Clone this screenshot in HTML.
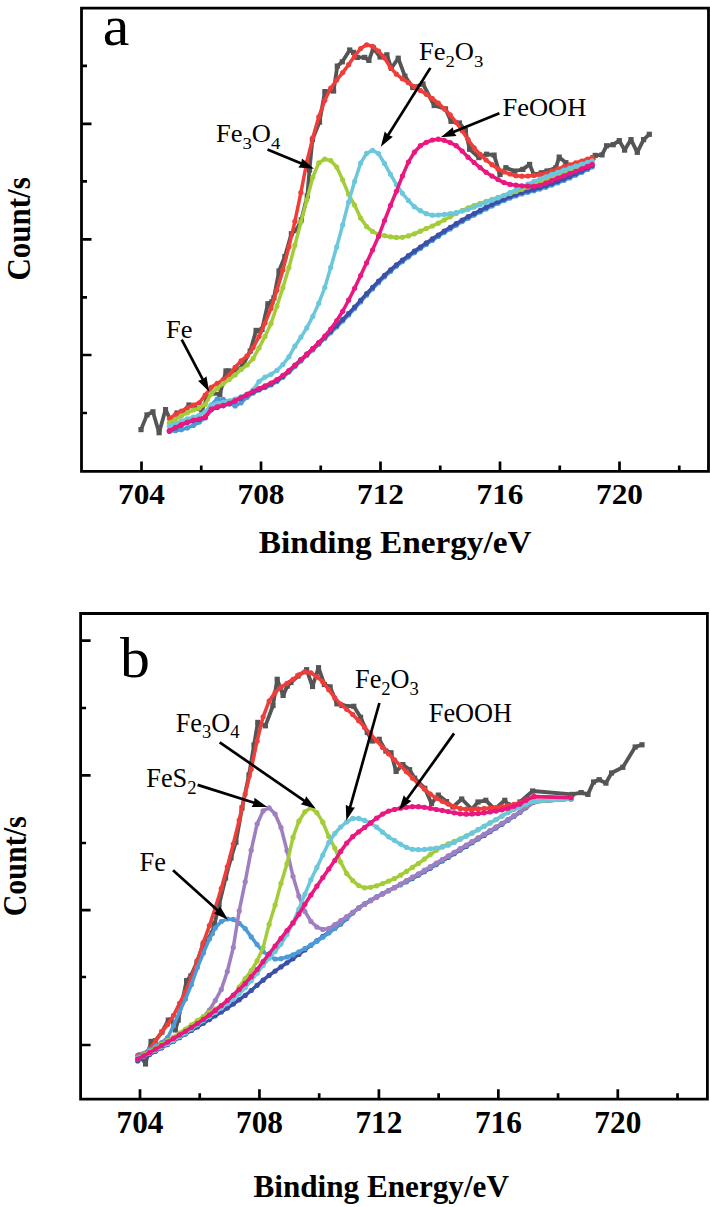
<!DOCTYPE html>
<html><head><meta charset="utf-8"><style>
html,body{margin:0;padding:0;background:#fff;width:710px;height:1207px;overflow:hidden}
svg{display:block}
text{font-family:"Liberation Serif",serif}
.tk,.ax{font-weight:bold}
</style></head><body>
<svg width="710" height="1207" viewBox="0 0 710 1207">
<path d="M81.5 8.2H708.5V471.4H81.5Z" fill="none" stroke="#000" stroke-width="2.8" stroke-linejoin="miter"/>
<path d="M141.50 471.4V461.50M201.25 471.4V465.50M261.00 471.4V461.50M320.75 471.4V465.50M380.50 471.4V461.50M440.25 471.4V465.50M500.00 471.4V461.50M559.75 471.4V465.50M619.50 471.4V461.50M679.25 471.4V465.50M81.5 123.9H91.5M81.5 239.4H91.5M81.5 355H91.5M81.5 65.8H87.0M81.5 181.4H87.0M81.5 297.4H87.0M81.5 413H87.0" stroke="#000" stroke-width="2.7" fill="none"/>
<text transform="translate(141.50,503.50) scale(1.0450,1)" class="tk" text-anchor="middle" style="font-size:30px">704</text>
<text transform="translate(261.00,503.50) scale(1.0450,1)" class="tk" text-anchor="middle" style="font-size:30px">708</text>
<text transform="translate(380.50,503.50) scale(1.0450,1)" class="tk" text-anchor="middle" style="font-size:30px">712</text>
<text transform="translate(500.00,503.50) scale(1.0450,1)" class="tk" text-anchor="middle" style="font-size:30px">716</text>
<text transform="translate(619.50,503.50) scale(1.0450,1)" class="tk" text-anchor="middle" style="font-size:30px">720</text>
<text transform="translate(395.15,552.50) scale(1.0570,1)" class="ax" text-anchor="middle" style="font-size:31.5px">Binding Energy/eV</text>
<text transform="translate(30.00,228.90) scale(1.1000,1) rotate(-90)" class="ax" text-anchor="middle" style="font-size:31px">Count/s</text>
<text transform="translate(102.80,44.50) scale(1.0700,1)" class="lab" text-anchor="start" style="font-size:56px">a</text>
<path d="M80.6 613.5H707.4V1099.2H80.6Z" fill="none" stroke="#000" stroke-width="2.8" stroke-linejoin="miter"/>
<path d="M140.00 1099.2V1089.30M199.72 1099.2V1093.30M259.45 1099.2V1089.30M319.17 1099.2V1093.30M378.90 1099.2V1089.30M438.62 1099.2V1093.30M498.35 1099.2V1089.30M558.07 1099.2V1093.30M617.80 1099.2V1089.30M677.52 1099.2V1093.30M80.6 640.6H90.6M80.6 775.3H90.6M80.6 910.2H90.6M80.6 1045H90.6M80.6 708H86.1M80.6 843H86.1M80.6 977H86.1" stroke="#000" stroke-width="2.7" fill="none"/>
<text transform="translate(140.00,1132.90) scale(1.0000,1)" class="tk" text-anchor="middle" style="font-size:31.3px">704</text>
<text transform="translate(259.45,1132.90) scale(1.0000,1)" class="tk" text-anchor="middle" style="font-size:31.3px">708</text>
<text transform="translate(378.90,1132.90) scale(1.0000,1)" class="tk" text-anchor="middle" style="font-size:31.3px">712</text>
<text transform="translate(498.35,1132.90) scale(1.0000,1)" class="tk" text-anchor="middle" style="font-size:31.3px">716</text>
<text transform="translate(617.80,1132.90) scale(1.0000,1)" class="tk" text-anchor="middle" style="font-size:31.3px">720</text>
<text transform="translate(381.20,1197.30) scale(0.9900,1)" class="ax" text-anchor="middle" style="font-size:31.5px">Binding Energy/eV</text>
<text transform="translate(25.50,866.30) scale(1.1000,1) rotate(-90)" class="ax" text-anchor="middle" style="font-size:30px">Count/s</text>
<text transform="translate(120.00,676.50) scale(1.0500,1)" class="lab" text-anchor="start" style="font-size:57px">b</text>
<defs><marker id="m_gray" viewBox="-3 -3 6 6" markerWidth="6" markerHeight="6" markerUnits="userSpaceOnUse" refX="0" refY="0"><rect x="-2.6" y="-2.6" width="5.2" height="5.2" fill="#555555"/></marker><marker id="m_red" viewBox="-3 -3 6 6" markerWidth="6" markerHeight="6" markerUnits="userSpaceOnUse" refX="0" refY="0"><circle r="2.6" fill="#ef3e3a"/></marker><marker id="m_green" viewBox="-3 -3 6 6" markerWidth="6" markerHeight="6" markerUnits="userSpaceOnUse" refX="0" refY="0"><circle r="2.6" fill="#a3cc38"/></marker><marker id="m_cyan" viewBox="-3 -3 6 6" markerWidth="6" markerHeight="6" markerUnits="userSpaceOnUse" refX="0" refY="0"><circle r="2.6" fill="#6cc7dc"/></marker><marker id="m_magenta" viewBox="-3 -3 6 6" markerWidth="6" markerHeight="6" markerUnits="userSpaceOnUse" refX="0" refY="0"><circle r="2.6" fill="#e9177f"/></marker><marker id="m_blue" viewBox="-3 -3 6 6" markerWidth="6" markerHeight="6" markerUnits="userSpaceOnUse" refX="0" refY="0"><circle r="2.6" fill="#3d50a8"/></marker><marker id="m_fe" viewBox="-3 -3 6 6" markerWidth="6" markerHeight="6" markerUnits="userSpaceOnUse" refX="0" refY="0"><circle r="2.6" fill="#4c9ad8"/></marker><marker id="m_fes2" viewBox="-3 -3 6 6" markerWidth="6" markerHeight="6" markerUnits="userSpaceOnUse" refX="0" refY="0"><circle r="2.6" fill="#9f7fbf"/></marker></defs>
<clipPath id="ca"><rect x="83" y="10" width="624" height="460"/></clipPath>
<g clip-path="url(#ca)">
<polyline points="141.0,429.6 147.0,414.9 152.9,411.8 159.1,432.7 165.5,409.6 171.0,421.0 177.0,413.0 183.0,412.0 189.0,405.0 195.0,408.0 201.8,410.2 207.0,398.0 213.0,393.0 219.8,394.4 226.0,370.9 229.0,370.9 234.0,372.0 242.5,366.0 250.2,351.1 256.1,330.4 260.0,330.9 262.0,329.4 267.9,303.8 271.9,301.8 273.9,297.9 279.0,271.0 284.9,256.5 291.4,233.7 296.5,230.0 301.3,219.8 307.3,195.9 309.5,170.0 312.4,139.5 319.5,122.1 324.9,91.6 333.6,91.0 337.3,66.1 342.3,61.8 349.7,50.0 353.5,52.4 357.2,57.4 364.7,57.4 368.9,60.4 373.4,48.0 380.1,57.0 386.9,54.8 391.4,68.3 398.2,58.2 404.9,76.2 412.8,87.5 423.0,84.0 434.2,105.5 445.5,108.9 451.0,121.3 459.4,123.0 465.4,130.6 469.6,149.2 478.9,157.6 486.5,154.2 494.1,155.1 500.0,174.5 505.9,167.7 514.4,171.1 522.8,169.4 529.6,164.4 533.8,174.5 541.4,172.8 547.0,171.0 555.8,167.8 559.2,157.1 565.9,162.7 570.4,175.1 578.3,172.3 586.0,163.0 593.0,157.7 595.2,155.4 602.0,154.9 606.5,145.8 613.2,144.7 619.3,140.6 624.6,150.1 631.0,139.6 637.3,152.3 643.6,139.6 649.3,134.3" fill="none" stroke="#555555" stroke-width="3.8" stroke-linejoin="round" stroke-linecap="round" marker-start="url(#m_gray)" marker-mid="url(#m_gray)" marker-end="url(#m_gray)"/>
<polyline points="169.4,418.6 175.4,414.8 181.3,411.2 187.3,407.9 193.3,405.0 199.3,402.8 205.2,395.1 211.2,387.3 217.2,383.4 223.2,379.7 229.2,375.0 235.1,367.4 241.1,360.9 247.1,355.8 253.1,347.8 259.0,336.6 265.0,323.0 271.0,308.4 276.9,290.2 282.9,269.9 288.9,246.8 294.9,221.3 300.9,192.7 306.8,162.0 312.8,137.8 318.8,116.8 324.8,100.3 330.7,88.2 336.7,80.1 342.7,72.6 348.6,64.7 354.6,56.0 360.6,48.6 366.6,44.8 372.5,46.3 378.5,51.1 384.5,58.0 390.5,67.6 396.4,74.2 402.4,78.8 408.4,82.7 414.4,86.6 420.4,90.5 426.3,94.3 432.3,98.5 438.3,103.2 444.2,108.6 450.2,114.8 456.2,122.4 462.2,130.8 468.1,139.7 474.1,147.9 480.1,154.4 486.1,160.0 492.0,164.7 498.0,168.9 504.0,171.9 510.0,174.0 515.9,175.7 521.9,176.2 527.9,176.0 533.9,175.4 539.9,174.7 545.8,173.5 551.8,171.2 557.8,168.8 563.8,166.8 569.7,164.8 575.7,162.9 581.7,161.0 587.6,159.1 592.2,157.7" fill="none" stroke="#ef3e3a" stroke-width="3.5" stroke-linejoin="round" stroke-linecap="round" marker-start="url(#m_red)" marker-mid="url(#m_red)" marker-end="url(#m_red)"/>
<polyline points="169.4,431.0 175.4,430.7 181.3,429.7 187.3,427.9 193.3,425.4 199.3,422.1 205.2,417.9 211.2,405.0 217.2,399.0 223.2,399.3 229.2,403.0 235.1,406.0 241.1,402.8 247.1,397.3 253.1,393.0 259.0,390.1 265.0,387.6 271.0,384.9 276.9,381.6 282.9,377.3 288.9,372.1 294.9,366.6 300.9,360.9 306.8,355.4 312.8,349.9 318.8,344.3 324.8,338.5 330.7,332.7 336.7,326.9 342.7,321.0 348.6,315.0 354.6,308.6 360.6,301.9 366.6,295.2 372.5,288.9 378.5,282.7 384.5,276.8 390.5,271.4 396.4,266.3 402.4,261.6 408.4,257.1 414.4,252.7 420.4,248.5 426.3,244.4 432.3,240.4 438.3,236.5 444.2,232.6 450.2,228.9 456.2,225.2 462.2,221.6 468.1,218.2 474.1,215.1 480.1,212.0 486.1,208.9 492.0,206.0 498.0,203.2 504.0,200.6 510.0,198.1 515.9,195.9 521.9,193.9 527.9,192.3 533.9,190.8 539.9,189.1 545.8,187.2 551.8,185.1 557.8,182.8 563.8,180.4 569.7,177.9 575.7,175.2 581.7,172.4 587.6,169.4 592.2,167.0" fill="none" stroke="#4c9ad8" stroke-width="3.5" stroke-linejoin="round" stroke-linecap="round" marker-start="url(#m_fe)" marker-mid="url(#m_fe)" marker-end="url(#m_fe)"/>
<polyline points="169.4,431.2 175.4,428.0 181.3,425.1 187.3,422.6 193.3,420.6 199.3,419.5 205.2,417.4 211.2,409.8 217.2,407.4 223.2,405.8 229.2,403.9 235.1,401.2 241.1,398.2 247.1,395.1 253.1,392.2 259.0,389.5 265.0,386.9 271.0,384.0 276.9,380.6 282.9,376.2 288.9,371.1 294.9,365.5 300.9,359.7 306.8,354.2 312.8,348.6 318.8,342.9 324.8,337.1 330.7,331.3 336.7,325.4 342.7,319.5 348.6,313.5 354.6,307.1 360.6,300.4 366.6,293.7 372.5,287.4 378.5,281.2 384.5,275.3 390.5,269.9 396.4,264.8 402.4,260.1 408.4,255.6 414.4,251.2 420.4,247.0 426.3,242.9 432.3,238.9 438.3,235.0 444.2,231.1 450.2,227.4 456.2,223.7 462.2,220.1 468.1,216.7 474.1,213.6 480.1,210.5 486.1,207.4 492.0,204.5 498.0,201.7 504.0,199.1 510.0,196.6 515.9,194.4 521.9,192.4 527.9,190.8 533.9,189.3 539.9,187.6 545.8,185.7 551.8,183.6 557.8,181.3 563.8,178.9 569.7,176.4 575.7,173.7 581.7,170.9 587.6,167.9 592.2,165.5" fill="none" stroke="#3d50a8" stroke-width="3.5" stroke-linejoin="round" stroke-linecap="round" marker-start="url(#m_blue)" marker-mid="url(#m_blue)" marker-end="url(#m_blue)"/>
<polyline points="169.4,422.8 175.4,419.3 181.3,415.9 187.3,412.8 193.3,410.0 199.3,408.1 205.2,404.4 211.2,393.9 217.2,388.4 223.2,383.7 229.2,379.6 235.1,374.9 241.1,369.4 247.1,365.0 253.1,358.7 259.0,347.9 265.0,336.5 271.0,323.4 276.9,306.3 282.9,287.7 288.9,267.7 294.9,245.2 300.9,222.2 306.8,200.1 312.8,177.2 318.8,162.9 324.8,159.1 330.7,160.6 336.7,167.0 342.7,180.0 348.6,194.3 354.6,205.1 360.6,218.1 366.6,226.6 372.5,231.5 378.5,234.3 384.5,235.7 390.5,236.8 396.4,237.4 402.4,237.3 408.4,235.9 414.4,233.8 420.4,231.2 426.3,228.5 432.3,226.0 438.3,223.2 444.2,220.0 450.2,216.8 456.2,213.5 462.2,210.5 468.1,207.8 474.1,205.5 480.1,203.3 486.1,201.3 492.0,199.3 498.0,197.4 504.0,195.5 510.0,193.5 515.9,191.5 521.9,189.3 527.9,187.1 533.9,184.8 539.9,182.5 545.8,180.2 551.8,177.8 557.8,175.4 563.8,173.0 569.7,170.5 575.7,168.0 581.7,165.5 587.6,163.0 592.2,161.0" fill="none" stroke="#a3cc38" stroke-width="3.5" stroke-linejoin="round" stroke-linecap="round" marker-start="url(#m_green)" marker-mid="url(#m_green)" marker-end="url(#m_green)"/>
<polyline points="169.4,426.3 175.4,423.7 181.3,421.2 187.3,418.9 193.3,417.1 199.3,415.1 205.2,411.8 211.2,405.0 217.2,403.3 223.2,402.3 229.2,400.9 235.1,399.0 241.1,396.9 247.1,394.1 253.1,389.8 259.0,381.5 265.0,377.1 271.0,374.3 276.9,370.4 282.9,364.5 288.9,356.8 294.9,346.2 300.9,337.2 306.8,327.9 312.8,316.4 318.8,303.2 324.8,287.5 330.7,267.4 336.7,246.9 342.7,224.9 348.6,202.0 354.6,181.5 360.6,163.2 366.6,153.4 372.5,150.3 378.5,153.6 384.5,163.5 390.5,174.3 396.4,184.6 402.4,193.3 408.4,200.5 414.4,206.7 420.4,210.7 426.3,213.7 432.3,215.2 438.3,215.0 444.2,214.4 450.2,213.7 456.2,212.6 462.2,211.1 468.1,209.3 474.1,207.1 480.1,204.9 486.1,202.5 492.0,200.2 498.0,197.9 504.0,195.3 510.0,192.6 515.9,189.8 521.9,187.0 527.9,184.2 533.9,181.5 539.9,179.1 545.8,176.8 551.8,174.5 557.8,172.3 563.8,170.2 569.7,168.1 575.7,166.1 581.7,164.2 587.6,162.4 592.2,161.0" fill="none" stroke="#6cc7dc" stroke-width="3.5" stroke-linejoin="round" stroke-linecap="round" marker-start="url(#m_cyan)" marker-mid="url(#m_cyan)" marker-end="url(#m_cyan)"/>
<polyline points="169.4,430.6 175.4,427.4 181.3,424.6 187.3,422.1 193.3,420.1 199.3,419.0 205.2,416.9 211.2,409.2 217.2,406.8 223.2,405.3 229.2,403.4 235.1,400.6 241.1,397.5 247.1,394.4 253.1,391.3 259.0,388.6 265.0,385.9 271.0,383.0 276.9,379.6 282.9,375.4 288.9,370.6 294.9,365.2 300.9,359.7 306.8,354.2 312.8,348.6 318.8,342.6 324.8,336.2 330.7,329.1 336.7,320.8 342.7,311.3 348.6,300.2 354.6,288.3 360.6,275.6 366.6,262.8 372.5,250.1 378.5,236.5 384.5,220.6 390.5,205.4 396.4,191.3 402.4,176.0 408.4,162.1 414.4,152.2 420.4,145.7 426.3,142.3 432.3,140.0 438.3,139.2 444.2,140.3 450.2,142.6 456.2,145.7 462.2,151.1 468.1,157.3 474.1,162.5 480.1,167.6 486.1,172.3 492.0,176.1 498.0,179.6 504.0,182.6 510.0,184.4 515.9,185.2 521.9,185.8 527.9,186.2 533.9,186.3 539.9,185.3 545.8,183.2 551.8,180.6 557.8,178.1 563.8,175.9 569.7,173.6 575.7,171.3 581.7,168.9 587.6,166.4 592.2,164.4" fill="none" stroke="#e9177f" stroke-width="3.5" stroke-linejoin="round" stroke-linecap="round" marker-start="url(#m_magenta)" marker-mid="url(#m_magenta)" marker-end="url(#m_magenta)"/>
</g>
<clipPath id="cb"><rect x="82" y="615" width="624" height="483"/></clipPath>
<g clip-path="url(#cb)">
<polyline points="140.0,1055.0 145.5,1064.0 151.1,1041.4 155.4,1040.7 162.0,1032.0 168.3,1020.1 171.1,1020.1 175.4,1030.0 178.2,1020.1 186.6,980.7 190.8,976.0 197.0,962.0 203.0,945.0 212.0,933.0 214.5,924.0 219.0,905.0 225.6,878.0 231.0,858.0 235.9,842.3 242.0,808.0 249.0,775.0 254.0,745.0 257.8,722.4 265.4,725.8 273.0,705.5 277.2,679.3 283.1,695.4 287.3,686.1 290.9,682.5 298.0,676.0 306.6,669.7 312.5,686.5 318.5,667.7 324.4,684.5 330.1,686.9 336.9,703.8 342.0,705.5 353.8,706.3 360.6,717.3 367.3,732.5 372.4,741.0 379.2,739.3 385.9,751.1 391.0,752.8 396.1,771.4 402.8,764.6 409.6,769.7 414.6,778.2 424.8,788.3 431.5,803.5 438.3,795.1 446.5,801.6 453.0,807.0 461.7,799.0 471.8,809.2 478.0,802.0 485.8,800.3 494.7,809.2 504.8,800.3 507.9,804.5 515.0,806.6 520.0,802.0 532.7,791.0 572.1,794.4 581.1,792.6 587.9,794.4 593.5,782.0 599.2,779.7 605.9,783.1 611.5,773.0 622.8,767.3 635.2,747.0 642.0,744.8" fill="none" stroke="#555555" stroke-width="3.8" stroke-linejoin="round" stroke-linecap="round" marker-start="url(#m_gray)" marker-mid="url(#m_gray)" marker-end="url(#m_gray)"/>
<polyline points="137.7,1055.5 143.7,1053.6 149.6,1049.0 155.6,1040.8 161.6,1032.3 167.6,1024.6 173.5,1015.5 179.5,1003.4 185.5,991.7 191.4,977.7 197.4,960.5 203.4,942.3 209.4,925.7 215.3,907.8 221.3,888.5 227.3,866.8 233.3,844.0 239.2,820.2 245.2,794.0 251.2,769.2 257.1,741.0 263.1,716.8 269.1,701.1 275.1,692.5 281.0,687.2 287.0,683.3 293.0,679.3 298.9,674.8 304.9,671.9 310.9,672.8 316.9,676.8 322.8,681.9 328.8,689.7 334.8,697.9 340.7,704.1 346.7,709.3 352.7,714.5 358.7,720.7 364.6,727.4 370.6,734.1 376.6,740.7 382.6,747.4 388.5,753.8 394.5,759.8 400.5,765.7 406.4,771.7 412.4,777.9 418.4,783.9 424.4,789.1 430.3,794.1 436.3,798.2 442.3,801.3 448.2,804.1 454.2,806.6 460.2,808.4 466.2,809.2 472.1,809.1 478.1,808.9 484.1,808.5 490.0,808.1 496.0,807.5 502.0,806.7 508.0,805.7 513.9,804.3 519.9,802.8 525.9,799.9 533.9,796.6 571.0,797.7" fill="none" stroke="#ef3e3a" stroke-width="3.5" stroke-linejoin="round" stroke-linecap="round" marker-start="url(#m_red)" marker-mid="url(#m_red)" marker-end="url(#m_red)"/>
<polyline points="137.7,1061.0 143.7,1057.8 149.6,1054.6 155.6,1051.3 161.6,1048.0 167.6,1044.6 173.5,1041.2 179.5,1037.7 185.5,1034.1 191.4,1030.5 197.4,1026.9 203.4,1023.3 209.4,1019.6 215.3,1015.8 221.3,1012.0 227.3,1008.1 233.3,1004.0 239.2,999.8 245.2,995.4 251.2,990.5 257.1,985.3 263.1,980.2 269.1,975.4 275.1,971.1 281.0,966.9 287.0,962.8 293.0,958.7 298.9,954.4 304.9,949.9 310.9,945.3 316.9,940.8 322.8,936.4 328.8,932.3 334.8,928.3 340.7,924.0 346.7,918.6 352.7,912.9 358.7,908.0 364.6,904.0 370.6,900.4 376.6,897.0 382.6,893.8 388.5,890.8 394.5,887.8 400.5,884.8 406.4,881.8 412.4,878.6 418.4,875.2 424.4,871.7 430.3,868.2 436.3,864.6 442.3,861.0 448.2,857.4 454.2,853.7 460.2,850.1 466.2,846.4 472.1,842.7 478.1,839.0 484.1,835.4 490.0,831.7 496.0,827.9 502.0,824.2 508.0,820.3 513.9,816.5 519.9,812.6 525.9,807.8 533.9,802.1 571.0,799.0" fill="none" stroke="#3d50a8" stroke-width="3.5" stroke-linejoin="round" stroke-linecap="round" marker-start="url(#m_blue)" marker-mid="url(#m_blue)" marker-end="url(#m_blue)"/>
<polyline points="137.7,1057.0 143.7,1053.6 149.6,1049.9 155.6,1046.2 161.6,1042.7 167.6,1037.7 173.5,1025.7 179.5,1011.7 185.5,999.1 191.4,984.6 197.4,967.6 203.4,953.0 209.4,939.1 215.3,927.9 221.3,921.5 227.3,919.0 233.3,919.4 239.2,923.3 245.2,928.6 251.2,936.9 257.1,944.6 263.1,951.6 269.1,956.1 275.1,959.0 281.0,958.7 287.0,957.0 293.0,954.9 298.9,951.8 304.9,948.5 310.9,945.0 316.9,941.2 322.8,937.2 328.8,933.0 334.8,928.4 340.7,923.3 346.7,917.9 352.7,912.6 358.7,907.9 364.6,903.9 370.6,900.3 376.6,896.8 382.6,893.6 388.5,890.5 394.5,887.5 400.5,884.4 406.4,881.3 412.4,878.0 418.4,874.6 424.4,871.1 430.3,867.5 436.3,863.9 442.3,860.3 448.2,856.6 454.2,852.9 460.2,849.2 466.2,845.5 472.1,841.9 478.1,838.2 484.1,834.6 490.0,830.9 496.0,827.2 502.0,823.5 508.0,819.7 513.9,815.9 519.9,812.1 525.9,807.3 533.9,801.7 571.0,798.9" fill="none" stroke="#4c9ad8" stroke-width="3.5" stroke-linejoin="round" stroke-linecap="round" marker-start="url(#m_fe)" marker-mid="url(#m_fe)" marker-end="url(#m_fe)"/>
<polyline points="137.7,1059.0 143.7,1056.2 149.6,1053.1 155.6,1049.9 161.6,1046.5 167.6,1042.9 173.5,1039.2 179.5,1035.4 185.5,1031.4 191.4,1027.0 197.4,1022.2 203.4,1016.8 209.4,1010.1 215.3,1000.5 221.3,989.4 227.3,971.5 233.3,947.5 239.2,910.9 245.2,881.8 251.2,850.2 257.1,824.0 263.1,810.9 269.1,807.8 275.1,814.0 281.0,827.5 287.0,850.7 293.0,876.3 298.9,896.0 304.9,911.5 310.9,921.4 316.9,927.1 322.8,929.4 328.8,928.5 334.8,924.7 340.7,920.6 346.7,916.6 352.7,912.3 358.7,908.2 364.6,904.4 370.6,900.8 376.6,897.3 382.6,893.9 388.5,890.6 394.5,887.3 400.5,884.0 406.4,880.6 412.4,877.2 418.4,873.8 424.4,870.2 430.3,866.7 436.3,863.1 442.3,859.5 448.2,855.9 454.2,852.3 460.2,848.7 466.2,845.1 472.1,841.5 478.1,837.9 484.1,834.3 490.0,830.7 496.0,827.1 502.0,823.4 508.0,819.7 513.9,815.9 519.9,812.1 525.9,807.3 533.9,801.7 571.0,798.9" fill="none" stroke="#9f7fbf" stroke-width="3.5" stroke-linejoin="round" stroke-linecap="round" marker-start="url(#m_fes2)" marker-mid="url(#m_fes2)" marker-end="url(#m_fes2)"/>
<polyline points="137.7,1058.0 143.7,1054.7 149.6,1051.4 155.6,1047.9 161.6,1044.4 167.6,1040.7 173.5,1037.0 179.5,1033.0 185.5,1029.0 191.4,1024.9 197.4,1020.7 203.4,1016.5 209.4,1012.5 215.3,1009.0 221.3,1005.4 227.3,1001.3 233.3,996.1 239.2,987.1 245.2,978.7 251.2,970.7 257.1,960.9 263.1,947.6 269.1,924.4 275.1,905.1 281.0,883.4 287.0,863.7 293.0,837.4 298.9,821.2 304.9,811.8 310.9,807.8 316.9,812.7 322.8,822.2 328.8,836.5 334.8,848.0 340.7,862.0 346.7,873.5 352.7,880.6 358.7,885.6 364.6,887.8 370.6,887.3 376.6,885.8 382.6,883.6 388.5,881.1 394.5,878.5 400.5,875.2 406.4,871.4 412.4,867.4 418.4,863.5 424.4,859.1 430.3,854.6 436.3,850.3 442.3,846.7 448.2,843.8 454.2,841.3 460.2,838.8 466.2,836.1 472.1,833.0 478.1,829.7 484.1,826.3 490.0,822.9 496.0,819.6 502.0,816.1 508.0,812.6 513.9,809.4 519.9,806.6 525.9,804.1 533.9,801.4 571.0,798.9" fill="none" stroke="#a3cc38" stroke-width="3.5" stroke-linejoin="round" stroke-linecap="round" marker-start="url(#m_green)" marker-mid="url(#m_green)" marker-end="url(#m_green)"/>
<polyline points="137.7,1058.5 143.7,1055.9 149.6,1053.0 155.6,1050.1 161.6,1046.9 167.6,1043.7 173.5,1040.3 179.5,1036.7 185.5,1032.9 191.4,1028.9 197.4,1024.7 203.4,1020.6 209.4,1016.4 215.3,1012.2 221.3,1008.0 227.3,1003.6 233.3,998.9 239.2,993.7 245.2,987.7 251.2,980.7 257.1,973.2 263.1,965.5 269.1,958.2 275.1,951.5 281.0,944.1 287.0,934.5 293.0,922.7 298.9,909.2 304.9,894.2 310.9,879.8 316.9,867.4 322.8,855.0 328.8,842.5 334.8,833.5 340.7,827.0 346.7,821.9 352.7,818.4 358.7,818.4 364.6,820.4 370.6,823.2 376.6,827.1 382.6,832.2 388.5,836.9 394.5,840.5 400.5,844.2 406.4,847.3 412.4,849.3 418.4,849.7 424.4,849.4 430.3,848.8 436.3,848.0 442.3,847.0 448.2,845.2 454.2,842.5 460.2,839.3 466.2,836.1 472.1,833.0 478.1,829.7 484.1,826.3 490.0,822.9 496.0,819.6 502.0,816.1 508.0,812.6 513.9,809.4 519.9,806.6 525.9,804.1 533.9,801.4 571.0,798.9" fill="none" stroke="#6cc7dc" stroke-width="3.5" stroke-linejoin="round" stroke-linecap="round" marker-start="url(#m_cyan)" marker-mid="url(#m_cyan)" marker-end="url(#m_cyan)"/>
<polyline points="137.7,1059.0 143.7,1055.8 149.6,1052.5 155.6,1049.1 161.6,1045.7 167.6,1042.1 173.5,1038.6 179.5,1034.9 185.5,1031.3 191.4,1027.5 197.4,1023.5 203.4,1019.4 209.4,1015.0 215.3,1010.4 221.3,1005.6 227.3,1000.5 233.3,995.1 239.2,989.5 245.2,983.4 251.2,976.7 257.1,969.5 263.1,961.6 269.1,953.8 275.1,946.0 281.0,938.3 287.0,930.6 293.0,922.9 298.9,914.2 304.9,904.3 310.9,895.0 316.9,886.2 322.8,877.6 328.8,869.1 334.8,860.5 340.7,851.4 346.7,843.1 352.7,836.7 358.7,831.8 364.6,827.5 370.6,822.9 376.6,818.2 382.6,814.1 388.5,811.1 394.5,809.5 400.5,808.2 406.4,807.3 412.4,806.7 418.4,806.7 424.4,807.3 430.3,808.3 436.3,809.5 442.3,810.5 448.2,811.6 454.2,812.8 460.2,813.8 466.2,814.2 472.1,814.0 478.1,813.6 484.1,812.8 490.0,812.0 496.0,811.1 502.0,809.8 508.0,808.2 513.9,806.3 519.9,804.1 525.9,800.4 533.9,796.6 571.0,797.7" fill="none" stroke="#e9177f" stroke-width="3.5" stroke-linejoin="round" stroke-linecap="round" marker-start="url(#m_magenta)" marker-mid="url(#m_magenta)" marker-end="url(#m_magenta)"/>
</g>
<text transform="translate(166.00,337.50) scale(1.06,1)" style="font-size:25px"><tspan>Fe</tspan></text>
<line x1="181.70" y1="339.60" x2="203.13" y2="380.20" stroke="#000" stroke-width="2.7"/>
<path d="M209.20 391.70L198.00 380.65L202.76 379.50L206.40 376.22Z" fill="#000"/>
<text transform="translate(216.00,142.40) scale(1.06,1)" style="font-size:25px"><tspan>Fe</tspan><tspan dy="6.3" style="font-size:17.7px">3</tspan><tspan dy="-6.3">O</tspan><tspan dy="6.3" style="font-size:17.7px">4</tspan></text>
<line x1="267.50" y1="149.60" x2="301.97" y2="163.76" stroke="#000" stroke-width="2.7"/>
<path d="M314.00 168.70L298.32 167.39L301.23 163.46L301.93 158.61Z" fill="#000"/>
<text transform="translate(419.00,60.30) scale(1.06,1)" style="font-size:25px"><tspan>Fe</tspan><tspan dy="6.3" style="font-size:17.7px">2</tspan><tspan dy="-6.3">O</tspan><tspan dy="6.3" style="font-size:17.7px">3</tspan></text>
<line x1="430.40" y1="67.90" x2="387.72" y2="135.79" stroke="#000" stroke-width="2.7"/>
<path d="M380.80 146.80L384.76 131.57L388.14 135.12L392.80 136.63Z" fill="#000"/>
<text transform="translate(502.50,116.10) scale(1.06,1)" style="font-size:25px"><tspan>FeOOH</tspan></text>
<line x1="499.40" y1="113.30" x2="452.84" y2="132.29" stroke="#000" stroke-width="2.7"/>
<path d="M440.80 137.20L452.90 127.14L453.58 131.99L456.48 135.93Z" fill="#000"/>
<text transform="translate(139.50,870.70) scale(1.0,1)" style="font-size:26.3px"><tspan>Fe</tspan></text>
<line x1="173.00" y1="870.20" x2="218.35" y2="911.09" stroke="#000" stroke-width="2.7"/>
<path d="M228.00 919.80L213.68 913.28L217.75 910.56L220.04 906.23Z" fill="#000"/>
<text transform="translate(146.30,787.00) scale(1.0,1)" style="font-size:26.3px"><tspan>FeS</tspan><tspan dy="6.6" style="font-size:18.6px">2</tspan></text>
<line x1="197.60" y1="784.90" x2="254.90" y2="802.99" stroke="#000" stroke-width="2.7"/>
<path d="M267.30 806.90L251.57 806.91L254.14 802.75L254.43 797.86Z" fill="#000"/>
<text transform="translate(175.70,731.70) scale(1.0,1)" style="font-size:26.3px"><tspan>Fe</tspan><tspan dy="6.6" style="font-size:18.6px">3</tspan><tspan dy="-6.6">O</tspan><tspan dy="6.6" style="font-size:18.6px">4</tspan></text>
<line x1="219.70" y1="742.30" x2="305.11" y2="801.40" stroke="#000" stroke-width="2.7"/>
<path d="M315.80 808.80L300.76 804.17L304.45 800.95L306.17 796.36Z" fill="#000"/>
<text transform="translate(355.00,688.20) scale(1.0,1)" style="font-size:26.3px"><tspan>Fe</tspan><tspan dy="6.6" style="font-size:18.6px">2</tspan><tspan dy="-6.6">O</tspan><tspan dy="6.6" style="font-size:18.6px">3</tspan></text>
<line x1="379.40" y1="703.00" x2="349.82" y2="808.09" stroke="#000" stroke-width="2.7"/>
<path d="M346.30 820.60L345.79 804.87L350.04 807.32L354.94 807.45Z" fill="#000"/>
<text transform="translate(428.80,721.60) scale(1.0,1)" style="font-size:26.3px"><tspan>FeOOH</tspan></text>
<line x1="454.10" y1="733.40" x2="406.48" y2="799.74" stroke="#000" stroke-width="2.7"/>
<path d="M398.90 810.30L403.79 795.34L406.95 799.09L411.51 800.88Z" fill="#000"/>
</svg></body></html>
